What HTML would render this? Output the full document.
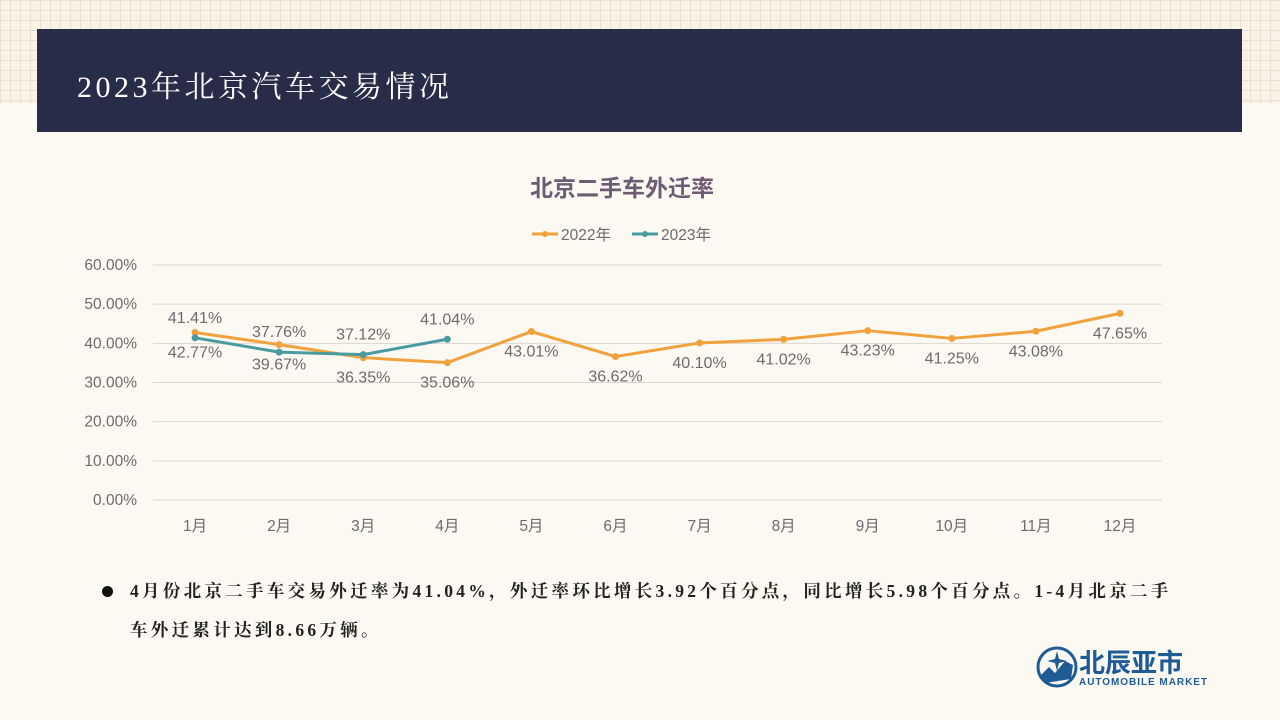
<!DOCTYPE html>
<html><head><meta charset="utf-8">
<style>
html,body{margin:0;padding:0}
body{width:1280px;height:720px;overflow:hidden;background:#fcf9f2;position:relative;font-family:"Liberation Sans","Noto Sans CJK SC",sans-serif}
.grid{position:absolute;left:0;top:0;width:1280px;height:103px;background-color:#f8f3e6;
background-image:linear-gradient(#e9e1cf 1px,transparent 1px),linear-gradient(90deg,#e9e1cf 1px,transparent 1px);background-size:10px 10px}
.header{position:absolute;left:37px;top:29px;width:1205px;height:103px;background:#282c48}
.header span{position:absolute;left:40px;top:33px;color:#fff;font-family:"Liberation Serif","Noto Serif CJK SC",serif;font-size:30px;letter-spacing:3.5px}
.body{position:absolute;left:130px;top:572px;width:1100px;font-family:"Liberation Serif","Noto Serif CJK SC",serif;font-size:17.5px;font-weight:bold;color:#222;line-height:39px;letter-spacing:3.3px;white-space:nowrap}
.bullet{position:absolute;left:102px;top:586px;width:11px;height:11px;border-radius:50%;background:#111}
</style></head><body>
<div class="grid"></div>
<div class="header"><span>2023年北京汽车交易情况</span></div>
<svg id="chart" width="1280" height="720" style="position:absolute;left:0;top:0">
<text x="622" y="196" text-anchor="middle" font-size="23" font-weight="bold" fill="#6f5b74" font-family="Liberation Sans, Noto Sans CJK SC, sans-serif">北京二手车外迁率</text>
<g>
<g><line x1="532" y1="234" x2="558" y2="234" stroke="#f2a23c" stroke-width="3"/><circle cx="545" cy="234" r="3" fill="#f2a23c"/><text x="561" y="240" font-size="15.5" fill="#6f6a70">2022年</text></g>
<g><line x1="632" y1="234" x2="658" y2="234" stroke="#4a9ba0" stroke-width="3"/><circle cx="645" cy="234" r="3" fill="#4a9ba0"/><text x="661" y="240" font-size="15.5" fill="#6f6a70">2023年</text></g>
</g>
<g id="plot"></g>
</svg>
<div class="bullet"></div>
<div class="body">4月份北京二手车交易外迁率为41.04%，外迁率环比增长3.92个百分点，同比增长5.98个百分点。1-4月北京二手<br>车外迁累计达到8.66万辆。</div>
<svg width="180" height="50" style="position:absolute;left:1035px;top:645px">
<circle cx="22" cy="22" r="19" fill="none" stroke="#1f5c96" stroke-width="3"/>
<path d="M6 30 L14 22 L20 28 L30 16 L38 20 L36 34 L10 38Z" fill="#1f5c96"/>
<path d="M22 6 L24 14 L32 16 L24 18 L22 26 L20 18 L12 16 L20 14Z" fill="#1f5c96"/>
<text x="44" y="27" font-size="26" font-weight="bold" fill="#1f5c96" font-family="Noto Sans CJK SC, sans-serif">北辰亚市</text>
<text x="44" y="40" font-size="10" font-weight="bold" fill="#1f5c96" textLength="128">AUTOMOBILE MARKET</text>
</svg>
<script>
const categories=["1月","2月","3月","4月","5月","6月","7月","8月","9月","10月","11月","12月"];
const series2022=[42.77,39.67,36.35,35.06,43.01,36.62,40.10,41.02,43.23,41.25,43.08,47.65];
const series2023=[41.41,37.76,37.12,41.04];
const yTicks=[0,10,20,30,40,50,60];
const NS="http://www.w3.org/2000/svg";
const plot=document.getElementById("plot");
const x0=153,x1=1162,yB=500,yT=265,yMax=60;
const bw=(x1-x0)/categories.length;
const xs=i=>x0+bw*(i+0.5);
const ys=v=>yB-(v/yMax)*(yB-yT);
function mk(tag,attrs,txt){const e=document.createElementNS(NS,tag);for(const k in attrs)e.setAttribute(k,attrs[k]);if(txt!==undefined)e.textContent=txt;plot.appendChild(e);return e;}
yTicks.forEach(t=>{
 const g=mk("line",{x1:x0,x2:x1,y1:ys(t),y2:ys(t),stroke:"#dcd8d0","stroke-width":1});
 
 
 const l=mk("text",{x:137,y:ys(t)+5,"text-anchor":"end","font-size":15.5,fill:"#6f6a70"},t.toFixed(2)+"%");
 
 
});
categories.forEach((c,i)=>{
 const l=mk("text",{x:xs(i),y:531,"text-anchor":"middle","font-size":15.5,fill:"#6f6a70"},c);
 
 
});
function drawSeries(data,color,name,above){
 const p=mk("polyline",{points:data.map((v,i)=>xs(i)+","+ys(v)).join(" "),fill:"none",stroke:color,"stroke-width":3,"stroke-linejoin":"round"});
 
 
 data.forEach((v,i)=>{
  const c=mk("circle",{cx:xs(i),cy:ys(v),r:3.5,fill:color});
  
  
  const t=mk("text",{x:xs(i),y:above?ys(v)-15:ys(v)+25,"text-anchor":"middle","font-size":16,fill:"#6f6a70"},v.toFixed(2)+"%");
  
  
 });
}
drawSeries(series2022,"#f2a23c","series-2022",false);
drawSeries(series2023,"#4a9ba0","series-2023",true);
</script>
</body></html>
